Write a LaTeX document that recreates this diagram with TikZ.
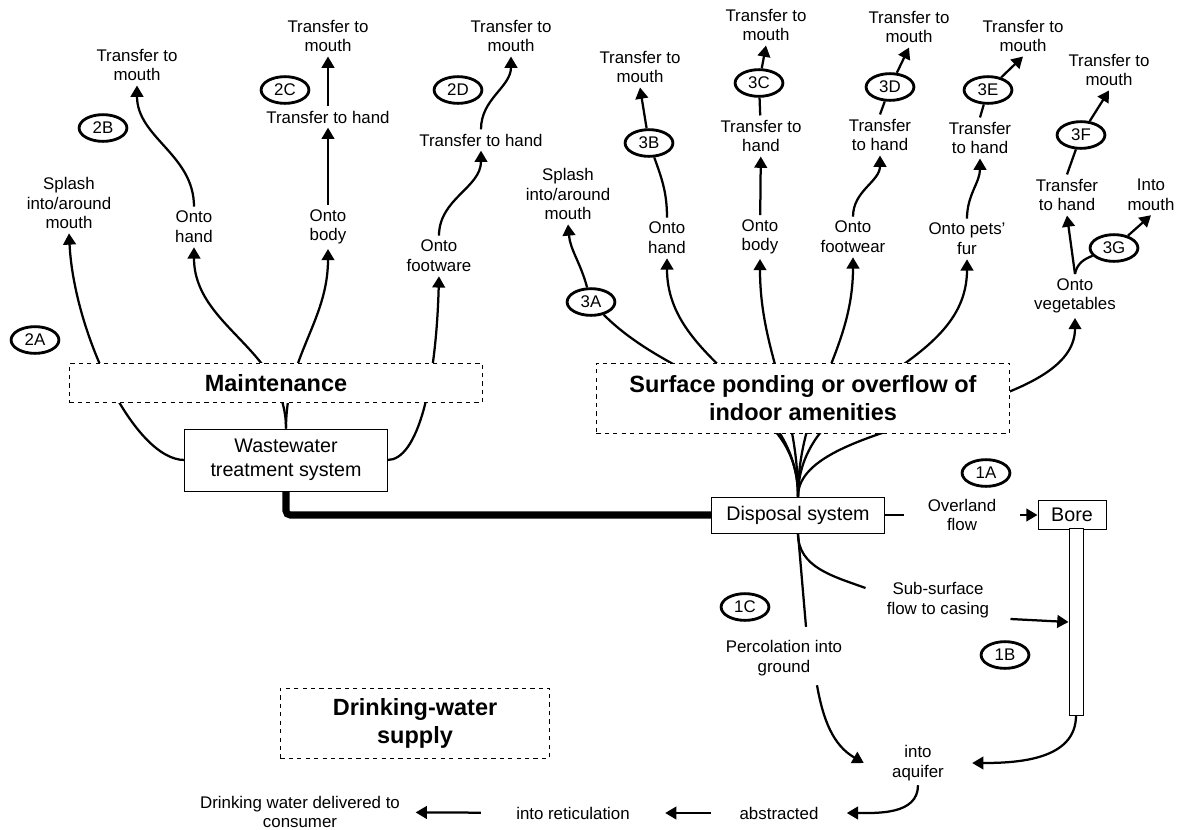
\documentclass[tikz,border=0pt]{standalone}
\usepackage{fontspec}
\setmainfont{Liberation Sans}
\usetikzlibrary{arrows.meta,shapes.geometric,calc}

\begin{document}
\begin{tikzpicture}[x=0.025cm,y=0.025cm,
  txt/.style={align=center,font=\fontsize{12}{14}\selectfont,inner sep=3pt},
  tag/.style={ellipse,draw,line width=2pt,fill=white,minimum width=34pt,minimum height=19pt,inner sep=0pt,font=\fontsize{12}{14}\selectfont},
  box/.style={draw,line width=0.7pt,fill=white,align=center,font=\fontsize{14}{17}\selectfont},
  zone/.style={draw,dashed,line width=0.6pt,fill=white,align=center,font=\fontsize{16.7}{20}\selectfont\bfseries},
  link/.style={line width=1.6pt},
  arr/.style={line width=1.6pt,-{Triangle[length=8pt,width=9pt]}}]
  \useasboundingbox (0,0) rectangle (1180,-830);

  % maintenance side
  \node[txt] (tm2B) at (137,-65) {Transfer to\\mouth};
  \node[tag] (c2B) at (103,-128) {2B};
  \node[txt] (spl2) at (69,-203) {Splash\\into/around\\mouth};
  \node[txt] (hand2) at (194,-227) {Onto\\hand};
  \node[txt] (body2) at (328,-227) {Onto\\body};
  \node[txt] (th2C) at (328,-117) {Transfer to hand};
  \node[txt] (tm2C) at (328,-36) {Transfer to\\mouth};
  \node[tag] (c2C) at (285,-90) {2C};
  \node[txt] (foot2) at (439,-256) {Onto\\footware};
  \node[txt] (th2D) at (481,-140) {Transfer to hand};
  \node[txt] (tm2D) at (511,-36) {Transfer to\\mouth};
  \node[tag] (c2D) at (458,-90) {2D};
  \node[tag] (c2A) at (35,-340) {2A};
  \node[box,minimum width=5.05cm,minimum height=1.55cm] (wts) at (286,-460) {Wastewater\\treatment system};

  \draw[arr] (wts.west) .. controls +(-50,0) and +(5,-100) .. (spl2.south);
  \draw[arr] (wts.north) to[out=90,in=-90] (hand2.south);
  \draw[arr] (wts.north) to[out=90,in=-90] (body2.south);
  \draw[arr] (wts.east) .. controls +(30,0) and +(-3,-110) .. (foot2.south);
  \draw[arr] (hand2.north) to[out=90,in=-90] (tm2B.south);
  \draw[arr] (body2) -- (th2C);
  \draw[arr] (th2C) -- (tm2C);
  \draw[arr] (foot2.north) to[out=90,in=-90] (th2D.south);
  \draw[arr] (th2D.north) to[out=90,in=-90] (tm2D.south);

  % surface ponding side
  \node[txt] (spl3) at (568,-194) {Splash\\into/around\\mouth};
  \node[tag] (c3A) at (591,-302) {3A};
  \node[txt] (hand3) at (667,-238) {Onto\\hand};
  \node[tag] (c3B) at (649,-143) {3B};
  \node[txt] (tm3B) at (640,-67) {Transfer to\\mouth};
  \node[txt] (body3) at (760,-237) {Onto\\body};
  \node[txt] (th3C) at (761,-136) {Transfer to\\hand};
  \node[tag] (c3C) at (759,-83) {3C};
  \node[txt] (tm3C) at (766,-25) {Transfer to\\mouth};
  \node[txt] (foot3) at (853,-237) {Onto\\footwear};
  \node[txt] (th3D) at (880,-135) {Transfer\\to hand};
  \node[tag] (c3D) at (890,-87) {3D};
  \node[txt] (tm3D) at (909,-27) {Transfer to\\mouth};
  \node[txt] (fur3) at (967,-239) {Onto pets’\\fur};
  \node[txt] (th3E) at (980,-138) {Transfer\\to hand};
  \node[tag] (c3E) at (988,-90) {3E};
  \node[txt] (tm3E) at (1023,-36) {Transfer to\\mouth};
  \node[txt] (veg3) at (1075,-296) {Onto\\vegetables};
  \node[txt] (th3F) at (1067,-195) {Transfer\\to hand};
  \node[tag] (c3F) at (1081,-135) {3F};
  \node[txt] (tm3F) at (1109,-70) {Transfer to\\mouth};
  \node[txt] (mouth3) at (1151,-195) {Into\\mouth};
  \node[tag] (c3G) at (1114,-248) {3G};

  % disposal and bore
  \node[box,minimum width=4.33cm,minimum height=0.9cm] (disp) at (798,-515) {Disposal system};
  \node[box,minimum width=1.7cm,minimum height=0.73cm,inner sep=0pt] (bore) at (1072,-515) {Bore};
  \node[draw,line width=0.7pt,fill=white,minimum width=0.35cm,minimum height=4.65cm,inner sep=0pt] (pipe) at (1076,-622) {};
  \node[txt,inner xsep=17pt] (ov) at (962,-515) {Overland\\flow};
  \node[tag] (c1A) at (986,-473) {1A};
  \node[txt,inner xsep=15pt] (sub) at (938,-600) {Sub-surface\\flow to casing};
  \node[tag] (c1B) at (1005,-655) {1B};
  \node[tag] (c1C) at (745,-607) {1C};
  \node[txt] (perc) at (784,-658) {Percolation into\\ground};
  \node[txt,inner xsep=20pt] (aq) at (918,-763) {into\\aquifer};
  \node[txt,inner xsep=20pt] (abs) at (779,-813) {abstracted};
  \node[txt,inner xsep=25pt] (ret) at (573,-813) {into reticulation};
  \node[txt,inner xsep=11pt] (cons) at (300,-812) {Drinking water delivered to\\consumer};

  % fan out of the disposal system
  \foreach \tgt in {hand3,body3,foot3,fur3}
    \draw[arr] (disp.north) to[out=90,in=-90] (\tgt.south);
  \draw[link] (disp.north) to[out=90,in=-45] (c3A);
  \draw[arr] (c3A) to[out=105,in=-85] (spl3.south);
  \draw[arr] (disp.north) .. controls +(0,80) and +(0,-100) .. (veg3.south);

  \draw[link] (hand3.north) to[out=90,in=-70] (c3B);
  \draw[arr] (c3B) -- (tm3B.south);
  \draw[arr] (body3) -- (th3C);
  \draw[link] (th3C) -- (c3C);
  \draw[arr] (c3C) -- (tm3C.south);
  \draw[arr] (foot3.north) to[out=90,in=-90] (th3D.south);
  \draw[link] (th3D.north) -- (c3D);
  \draw[arr] (c3D) -- (tm3D.south);
  \draw[arr] (fur3.north) to[out=90,in=-90] (th3E.south);
  \draw[link] (th3E.north) -- (c3E);
  \draw[arr] (c3E) -- (tm3E.south);
  \draw[arr] (veg3.north) -- (th3F.south);
  \draw[link] (th3F.north) -- (c3F);
  \draw[arr] (c3F) -- (tm3F.south);
  \draw[link] (veg3.north) to[out=80,in=200] (c3G);
  \draw[arr] (c3G) -- (mouth3.south);

  % into the ground water
  \draw[line width=5pt,rounded corners=3pt] (wts.south) |- (disp.west);
  \draw[link] (disp.east) -- (ov.west);
  \draw[arr] (ov.east) -- (bore.west);
  \draw[link] (disp.south) to[out=-90,in=160] ($(sub.west)+(0,12)$);
  \draw[arr] ($(sub.east)+(0,-19)$) -- (pipe.west);
  \draw[link] (disp.south) -- ($(perc.north)+(22,9)$);
  \draw[arr] ($(perc.south)+(33,-5)$) to[out=-80,in=150] (aq.west);
  \draw[arr] (pipe.south) to[out=-90,in=0] (aq.east);
  \draw[arr] (aq.south) to[out=-90,in=0] (abs.east);
  \draw[arr] (abs) -- (ret);
  \draw[arr] (ret) -- (cons);

  % dashed zones on top of the lines
  \node[zone,minimum width=10.33cm,minimum height=0.98cm] (maint) at (276,-383) {Maintenance};
  \node[zone,minimum width=10.33cm,minimum height=1.75cm] (surf) at (803,-398) {Surface ponding or overflow of\\indoor amenities};
  \node[zone,minimum width=6.73cm,minimum height=1.75cm] (dws) at (415,-723) {Drinking-water\\supply};
\end{tikzpicture}
\end{document}
